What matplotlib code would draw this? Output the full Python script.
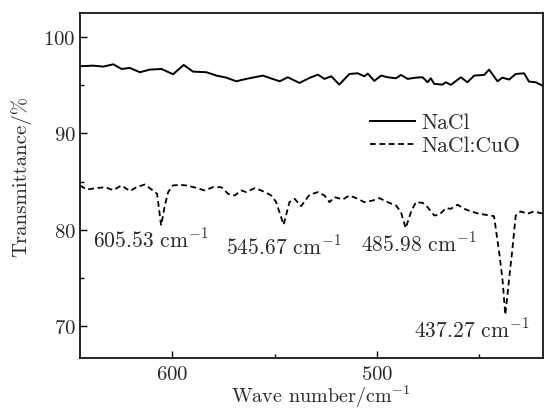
import matplotlib
matplotlib.use("Agg")
import matplotlib.pyplot as plt
from matplotlib.ticker import MultipleLocator

plt.rcParams['font.family'] = 'serif'
plt.rcParams['font.serif'] = ['cmr10']
plt.rcParams['mathtext.fontset'] = 'cm'
plt.rcParams['axes.formatter.use_mathtext'] = True
plt.rcParams['axes.unicode_minus'] = False

# NaCl spectrum (wave number, transmittance)
nacl_x = [645.2, 638.7, 633.8, 628.9, 624.9, 620.8, 615.9, 611.1, 605.4, 599.7,
          594.5, 589.9, 583.4, 578.5, 573.7, 568.8, 563.9, 555.8, 547.6, 543.6,
          537.9, 533.0, 528.9, 525.7, 522.4, 518.4, 513.5, 509.4, 506.2, 504.5,
          501.3, 498.0, 494.8, 490.7, 488.3, 485.0, 481.0, 477.7, 475.3, 473.7,
          472.0, 468.0, 466.3, 463.9, 459.0, 455.8, 452.5, 447.6, 445.2, 441.1,
          438.7, 435.4, 432.2, 428.1, 425.7, 422.4, 419.2]
nacl_y = [96.94, 97.00, 96.90, 97.14, 96.66, 96.76, 96.32, 96.59, 96.66, 96.11,
          97.07, 96.38, 96.32, 95.97, 95.76, 95.38, 95.63, 95.97, 95.38, 95.80,
          95.21, 95.73, 96.07, 95.63, 95.90, 95.04, 96.14, 96.21, 95.90, 96.18,
          95.42, 95.97, 95.80, 95.69, 96.04, 95.63, 95.76, 95.80, 95.28, 95.69,
          95.11, 95.04, 95.28, 95.01, 95.80, 95.28, 95.97, 96.04, 96.59, 95.38,
          95.76, 95.56, 96.14, 96.21, 95.35, 95.28, 94.94]

# NaCl:CuO spectrum
cuo_x = [645.2, 641.9, 637.1, 633.0, 628.9, 624.9, 620.8, 617.6, 613.5, 610.2,
         607.5, 605.53, 603.7, 602.1, 599.7, 596.4, 593.2, 588.3, 584.2, 580.2,
         576.1, 572.8, 569.6, 566.3, 563.9, 559.8, 556.6, 554.1, 551.7, 549.3,
         545.67, 542.8, 540.3, 537.1, 533.0, 528.9, 525.7, 523.2, 520.8, 516.7,
         513.5, 510.2, 506.2, 502.1, 498.9, 494.8, 490.7, 488.3, 485.98, 483.4,
         481.0, 477.7, 475.3, 472.0, 469.6, 466.3, 463.9, 460.6, 457.4, 454.1,
         450.1, 446.8, 442.8, 440.3, 438.7, 437.27, 435.4, 433.8, 432.2, 429.8,
         426.5, 423.2, 418.9]
cuo_y = [84.60, 84.18, 84.32, 84.42, 84.11, 84.60, 84.01, 84.42, 84.70, 84.18,
         83.73, 80.46, 82.53, 83.91, 84.60, 84.66, 84.60, 84.35, 84.08, 84.42,
         84.42, 83.73, 83.56, 84.08, 83.91, 84.32, 84.08, 83.84, 83.56, 82.87,
         80.53, 82.87, 83.22, 82.46, 83.63, 83.91, 83.56, 82.87, 83.39, 83.15,
         83.56, 83.29, 82.87, 83.04, 83.29, 82.87, 82.53, 81.84, 80.18, 81.84,
         82.87, 82.80, 82.35, 81.49, 81.56, 82.25, 82.18, 82.60, 82.18, 81.91,
         81.67, 81.56, 81.42, 77.70, 74.94, 71.22, 74.94, 78.05, 81.49, 81.91,
         81.67, 81.91, 81.67]

# peak annotations
peak_labels = ['605.53', '545.67', '485.98', '437.27']
label_x = [638.9, 573.6, 507.8, 481.8]
label_y = [79.08, 78.36, 78.67, 69.77]

series_names = ['NaCl', 'NaCl:CuO']

txt = '#2a2a2a'
fs = 15.5
fs_tick = 15

fig = plt.figure(figsize=(5.44, 4.14), dpi=100)
ax = fig.add_axes([0.147, 0.132, 0.851, 0.833])

ax.plot(nacl_x, nacl_y, color='black', lw=1.4, label=series_names[0])
ax.plot(cuo_x, cuo_y, color='black', lw=1.3, ls=(0, (3.2, 2.0)), label=series_names[1])

for lab, lx, ly in zip(peak_labels, label_x, label_y):
    ax.text(lx, ly, lab + r' cm$^{-1}$', ha='left', va='center', fontsize=fs, color=txt)

ax.set_xlim(645.2, 418.9)
ax.set_ylim(66.7, 102.4)
ax.xaxis.set_major_locator(MultipleLocator(100))
ax.xaxis.set_minor_locator(MultipleLocator(50))
ax.yaxis.set_major_locator(MultipleLocator(10))
ax.yaxis.set_minor_locator(MultipleLocator(5))
ax.tick_params(which='both', direction='in', colors='black', labelcolor=txt, labelsize=fs_tick, width=1.0)
ax.tick_params(which='major', length=5.3)
ax.tick_params(which='minor', length=2.8)
ax.tick_params(axis='x', pad=5)
ax.tick_params(axis='y', pad=3)
for s in ax.spines.values():
    s.set_linewidth(1.2)

xl = ax.set_xlabel(r'Wave number/cm$^{-1}$', fontsize=14.5, color=txt)
xl.set_verticalalignment('bottom')
ax.xaxis.set_label_coords(0.52, -0.148)
ax.set_ylabel('Transmittance/%', fontsize=fs_tick, color=txt, labelpad=5)
ax.yaxis.set_label_coords(-0.105, 0.53)

leg = ax.legend(loc='upper left', bbox_to_anchor=(0.626, 0.712), frameon=False,
                fontsize=fs, handlelength=2.1, handletextpad=0.3,
                labelspacing=0.15, borderpad=0, borderaxespad=0)
for t in leg.get_texts():
    t.set_color(txt)

fig.savefig('out.png', dpi=100)
